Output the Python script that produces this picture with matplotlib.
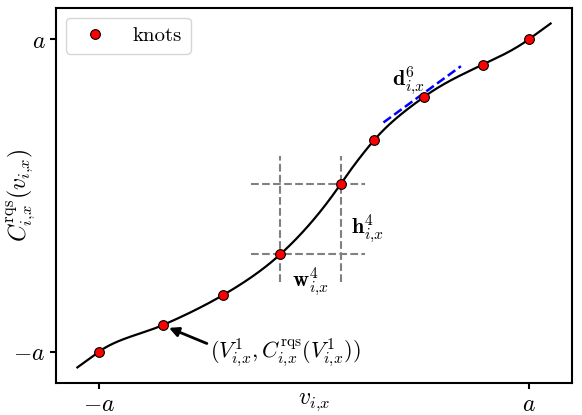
import numpy as np
import matplotlib
matplotlib.use("Agg")
import matplotlib.pyplot as plt

plt.rcParams['mathtext.fontset'] = 'cm'
plt.rcParams['font.family'] = 'serif'
plt.rcParams['font.serif'] = ['cmr10', 'DejaVu Serif']
plt.rcParams['axes.formatter.use_mathtext'] = True

# knots of the spline, in units of a
knot_x = [-1.0, -0.704, -0.425, -0.157, 0.124, 0.279, 0.513, 0.785, 1.0]
knot_y = [-1.0, -0.830, -0.639, -0.377, 0.073, 0.353, 0.632, 0.837, 1.0]
knot_d = [1.0, 0.6, 0.8, 1.25, 2.0, 1.6, 1.0, 0.65, 1.0]

x_range = [-1.1, 1.1]
tick_vals = [-1.0, 1.0]
tick_labels = [r'$-a$', r'$a$']


def rqs(x, xk, yk, dk):
    # rational quadratic spline, identity outside the knots
    xk, yk, dk = np.asarray(xk), np.asarray(yk), np.asarray(dk)
    out = np.array(x, dtype=float)
    inside = (x >= xk[0]) & (x <= xk[-1])
    xi = x[inside]
    k = np.clip(np.searchsorted(xk, xi, side='right') - 1, 0, len(xk) - 2)
    w = xk[k + 1] - xk[k]
    h = yk[k + 1] - yk[k]
    s = h / w
    t = (xi - xk[k]) / w
    num = h * (s * t**2 + dk[k] * t * (1 - t))
    den = s + (dk[k + 1] + dk[k] - 2 * s) * t * (1 - t)
    out[inside] = yk[k] + num / den
    return out


xs = np.linspace(x_range[0], x_range[1], 800)
ys = rqs(xs, knot_x, knot_y, knot_d)

fig = plt.figure(figsize=(5.82, 4.15), dpi=100)
ax = fig.add_axes([0.096, 0.077, 0.887, 0.904])

ax.plot(xs, ys, color='black', lw=1.6, zorder=2)
ax.plot(knot_x, knot_y, 'o', color='red', mec='black', mew=0.8, ms=7,
        label='knots', zorder=4)

# width / height of bin 4
i = 3
ax.plot([knot_x[i] - 0.135, knot_x[i + 1] + 0.115], [knot_y[i]] * 2,
        ls='--', color='grey', lw=1.5, zorder=1)
ax.plot([knot_x[i] - 0.135, knot_x[i + 1] + 0.115], [knot_y[i + 1]] * 2,
        ls='--', color='grey', lw=1.5, zorder=1)
ax.plot([knot_x[i]] * 2, [knot_y[i] - 0.175, knot_y[i + 1] + 0.18],
        ls='--', color='grey', lw=1.5, zorder=1)
ax.plot([knot_x[i + 1]] * 2, [knot_y[i] - 0.175, knot_y[i + 1] + 0.18],
        ls='--', color='grey', lw=1.5, zorder=1)
ax.text(knot_x[i + 1] + 0.05, -0.213, r'$\mathbf{h}^4_{i{,}x}$', fontsize=16,
        ha='left', va='center')
ax.text((knot_x[i] + knot_x[i + 1]) / 2, -0.55, r'$\mathbf{w}^4_{i{,}x}$',
        fontsize=16, ha='center', va='center')

# tangent at knot 7
j = 6
tx = np.array([knot_x[j] - 0.19, knot_x[j] + 0.17])
ty = knot_y[j] + 0.025 + knot_d[j] * (tx - knot_x[j])
ax.plot(tx, ty, ls='--', color='blue', lw=1.8, zorder=3)
ax.text(0.44, 0.735, r'$\mathbf{d}^6_{i{,}x}$', fontsize=16, ha='center',
        va='center')

ax.annotate(r'$(V^1_{i{,}x}, C^{\mathrm{rqs}}_{i{,}x}(V^1_{i{,}x}))$',
            xy=(knot_x[1], knot_y[1]), xytext=(-0.135, -1.006),
            fontsize=16, ha='center', va='center',
            arrowprops=dict(arrowstyle='-|>', color='black', lw=2,
                            mutation_scale=14, shrinkA=0, shrinkB=5,
                            relpos=(0.0, 0.75)))

ax.set_xlim(-1.2, 1.2)
ax.set_ylim(-1.2, 1.2)
ax.set_xticks(tick_vals)
ax.set_xticklabels(tick_labels, fontsize=17)
ax.set_yticks(tick_vals)
ax.set_yticklabels(tick_labels, fontsize=17)
ax.set_xlabel(r'$v_{i{,}x}$', fontsize=17)
ax.xaxis.set_label_coords(0.5, -0.02)
ax.set_ylabel(r'$C^{\mathrm{rqs}}_{i{,}x}(v_{i{,}x})$', fontsize=17)
ax.yaxis.set_label_coords(-0.035, 0.5)
for sp in ax.spines.values():
    sp.set_linewidth(1.5)
ax.tick_params(width=1.5, length=4)

ax.legend(loc='upper left', fontsize=15)

fig.savefig('out.png', dpi=100)
